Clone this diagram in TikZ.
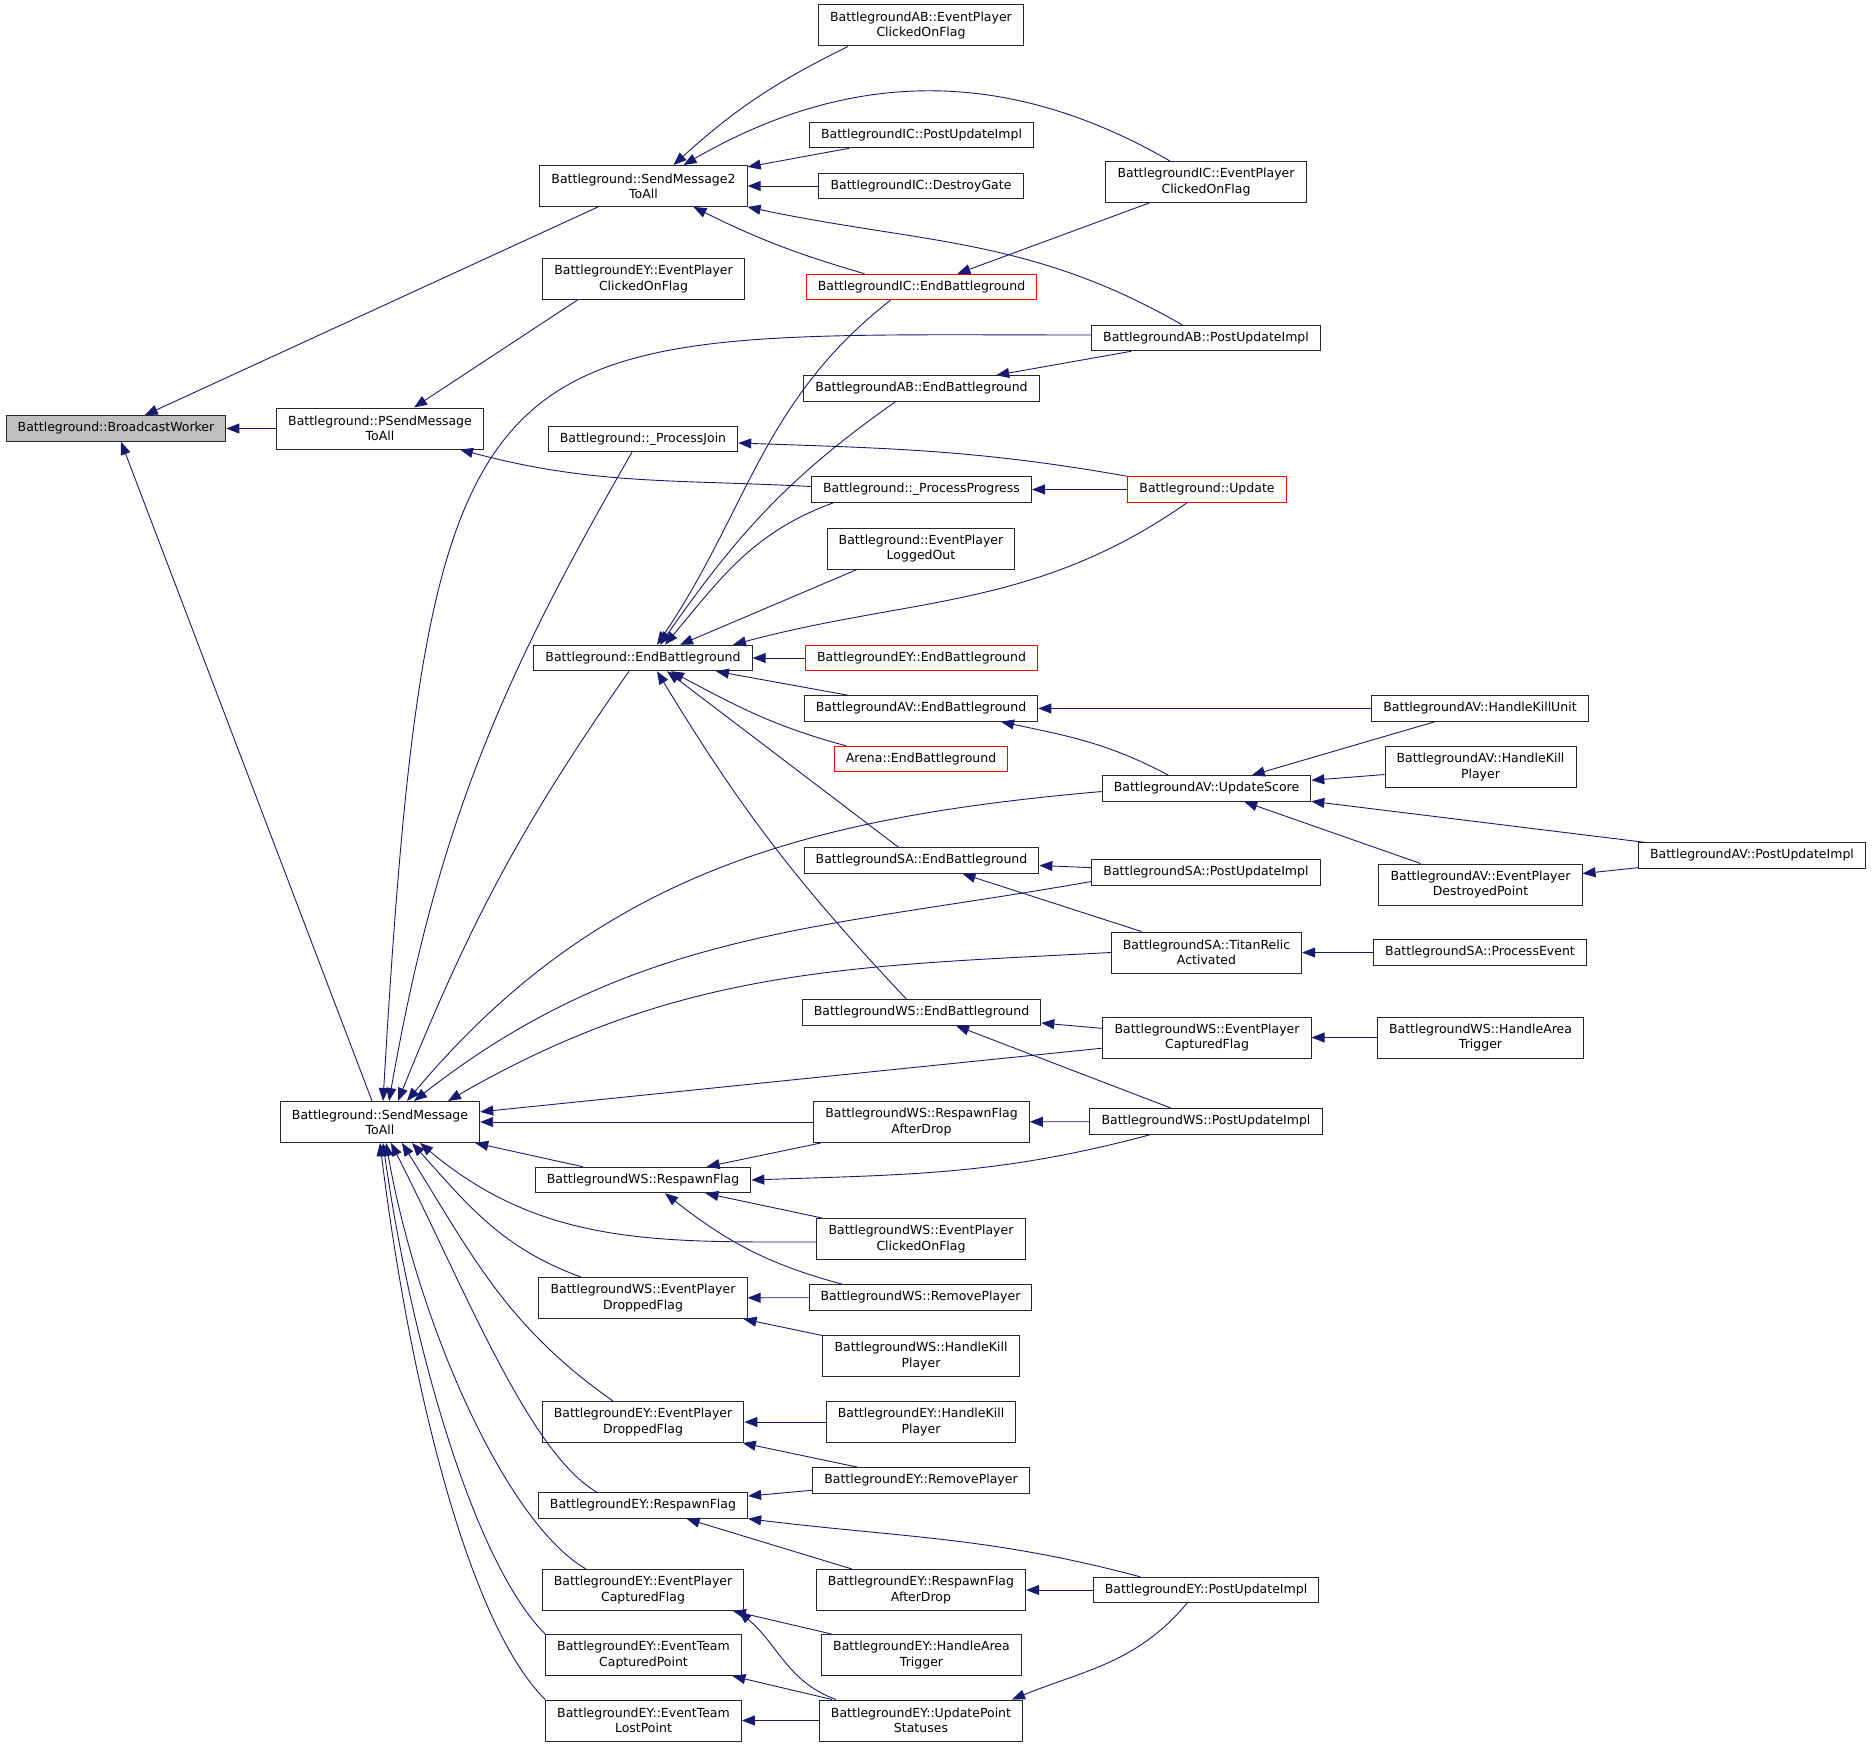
\documentclass[tikz,border=0pt]{standalone}
\usepackage{fontspec}
\setmainfont{DejaVu Sans}
\usepackage{tikz}
\usetikzlibrary{arrows.meta}
\definecolor{navy}{HTML}{191970}

\begin{document}
\begin{tikzpicture}
	[>= {Triangle[length=13pt,width=10pt]}, x=1pt, y=1pt,
	 func/.style={draw=black!85, line width=1pt, rectangle, align=center,
	   font=\fontsize{12.5}{15.2}\selectfont, inner xsep=11.6pt, inner ysep=2pt,
	   minimum height=25.5pt},
	 tall/.style={minimum height=41pt},
	 cut/.style={draw=red},
	 every edge/.append style={navy, line width=0.9pt}]
\useasboundingbox (0,0) rectangle (1873,-1747);

\node[func, fill=black!25](bw) at (116,-428.5){Battleground::BroadcastWorker};
\node[func, tall](psm) at (380,-428.5){Battleground::PSendMessage\\ToAll};
\node[func, tall](sm2) at (643.5,-186){Battleground::SendMessage2\\ToAll};
\node[func, tall](sm) at (380,-1122){Battleground::SendMessage\\ToAll};
\node[func, tall](abclick) at (921,-25.5){BattlegroundAB::EventPlayer\\ClickedOnFlag};
\node[func](icpost) at (921.5,-135){BattlegroundIC::PostUpdateImpl};
\node[func](icgate) at (921,-186){BattlegroundIC::DestroyGate};
\node[func, tall](icclick) at (1206,-182){BattlegroundIC::EventPlayer\\ClickedOnFlag};
\node[func, cut](icend) at (921.5,-287){BattlegroundIC::EndBattleground};
\node[func, tall](eyclick) at (643.5,-279){BattlegroundEY::EventPlayer\\ClickedOnFlag};
\node[func](abpost) at (1206,-338){BattlegroundAB::PostUpdateImpl};
\node[func](abend) at (921.5,-388.5){BattlegroundAB::EndBattleground};
\node[func](pjoin) at (643,-439){Battleground::\_ProcessJoin};
\node[func](pprog) at (921.5,-489.5){Battleground::\_ProcessProgress};
\node[func, cut](update) at (1207,-489.5){Battleground::Update};
\node[func, tall](logout) at (921,-548.5){Battleground::EventPlayer\\LoggedOut};
\node[func](endbg) at (643,-658){Battleground::EndBattleground};
\node[func, cut](eyend) at (921.5,-658){BattlegroundEY::EndBattleground};
\node[func](avend) at (921,-708.5){BattlegroundAV::EndBattleground};
\node[func, cut](arena) at (921,-759){Arena::EndBattleground};
\node[func](avkillunit) at (1480,-708.5){BattlegroundAV::HandleKillUnit};
\node[func, tall](avkillplayer) at (1480.5,-767){BattlegroundAV::HandleKill\\Player};
\node[func](avscore) at (1206.5,-788.5){BattlegroundAV::UpdateScore};
\node[func](avpost) at (1752,-855.5){BattlegroundAV::PostUpdateImpl};
\node[func](saend) at (921.5,-860.5){BattlegroundSA::EndBattleground};
\node[func](sapost) at (1206,-872.5){BattlegroundSA::PostUpdateImpl};
\node[func, tall](avdestroy) at (1480.5,-884.5){BattlegroundAV::EventPlayer\\DestroyedPoint};
\node[func, tall](satitan) at (1206.5,-952.5){BattlegroundSA::TitanRelic\\Activated};
\node[func](saevent) at (1480,-952.5){BattlegroundSA::ProcessEvent};
\node[func](wsend) at (921.5,-1012.5){BattlegroundWS::EndBattleground};
\node[func, tall](wscapt) at (1207,-1037.5){BattlegroundWS::EventPlayer\\CapturedFlag};
\node[func, tall](wsarea) at (1480.5,-1037.5){BattlegroundWS::HandleArea\\Trigger};
\node[func, tall](wsafter) at (921.5,-1122){BattlegroundWS::RespawnFlag\\AfterDrop};
\node[func](wspost) at (1206,-1121.5){BattlegroundWS::PostUpdateImpl};
\node[func](wsrespawn) at (643,-1180){BattlegroundWS::RespawnFlag};
\node[func, tall](wsclick) at (921,-1239){BattlegroundWS::EventPlayer\\ClickedOnFlag};
\node[func, tall](wsdrop) at (643,-1298){BattlegroundWS::EventPlayer\\DroppedFlag};
\node[func](wsremove) at (920.5,-1297.5){BattlegroundWS::RemovePlayer};
\node[func, tall](wskill) at (921,-1356){BattlegroundWS::HandleKill\\Player};
\node[func, tall](eydrop) at (643,-1422){BattlegroundEY::EventPlayer\\DroppedFlag};
\node[func, tall](eykill) at (921,-1422){BattlegroundEY::HandleKill\\Player};
\node[func](eyremove) at (921,-1480.5){BattlegroundEY::RemovePlayer};
\node[func](eyrespawn) at (643,-1505.5){BattlegroundEY::RespawnFlag};
\node[func, tall](eyafter) at (921,-1590){BattlegroundEY::RespawnFlag\\AfterDrop};
\node[func](eypost) at (1206,-1590){BattlegroundEY::PostUpdateImpl};
\node[func, tall](eycapt) at (643,-1590){BattlegroundEY::EventPlayer\\CapturedFlag};
\node[func, tall](eyarea) at (921.5,-1655){BattlegroundEY::HandleArea\\Trigger};
\node[func, tall](eyteam) at (643.5,-1655){BattlegroundEY::EventTeam\\CapturedPoint};
\node[func, tall](eylost) at (643.5,-1720.5){BattlegroundEY::EventTeam\\LostPoint};
\node[func, tall](eyupdate) at (921,-1720.5){BattlegroundEY::UpdatePoint\\Statuses};

\path[<-]
	(bw)	edge (psm)
	(bw)	edge (sm2)
	(bw)	edge (sm)
	([xshift=30pt]sm2.north)	edge [bend left=8] ([xshift=-73pt]abclick.south)
	([xshift=40pt]sm2.north)	edge [out=30, in=150] ([xshift=-36pt]icclick.north)
	(sm2)	edge (icpost)
	(sm2)	edge (icgate)
	(sm2.south east)	edge [out=-12, in=150] ([xshift=-24pt]abpost.north)
	([xshift=50pt]sm2.south)	edge [bend right=5] ([xshift=-57pt]icend.north)
	([xshift=34pt]psm.north)	edge ([xshift=-66pt]eyclick.south)
	([xshift=80pt]psm.south)	edge [out=-15, in=177] ([yshift=3pt]pprog.west)
	(icend)	edge (icclick)
	(abend)	edge (abpost)
	([yshift=-4pt]pjoin.east)	edge [out=-2, in=170] (update.north west)
	(pprog)	edge (update)
	([xshift=14pt]endbg.north)	edge [out=56, in=218] ([xshift=-31pt]icend.south)
	([xshift=17pt]endbg.north)	edge [out=55, in=215] ([xshift=-26pt]abend.south)
	([xshift=22pt]endbg.north)	edge [out=50, in=200] ([xshift=-88pt]pprog.south)
	([xshift=37pt]endbg.north)	edge ([xshift=-64pt]logout.south)
	([xshift=90pt]endbg.north)	edge [out=15, in=215] ([xshift=-20pt]update.south)
	(endbg)	edge (eyend)
	(endbg)	edge (avend)
	([xshift=28pt]endbg.south)	edge [out=-28, in=165] ([xshift=-75pt]arena.north)
	([xshift=24pt]endbg.south)	edge ([xshift=-23pt]saend.north)
	([xshift=14pt]endbg.south)	edge [bend right=6] ([xshift=-15pt]wsend.north)
	(avend)	edge (avkillunit)
	([xshift=80pt]avend.south)	edge [out=-12, in=152] ([xshift=-38pt]avscore.north)
	(avscore)	edge (avkillunit)
	(avscore)	edge (avkillplayer)
	(avscore)	edge (avpost)
	(avscore)	edge (avdestroy)
	(avdestroy)	edge (avpost)
	(saend)	edge (sapost)
	(saend)	edge (satitan)
	(satitan)	edge (saevent)
	(wsend)	edge (wscapt)
	(wscapt)	edge (wsarea)
	(wsend)	edge (wspost)
	(wsafter)	edge (wspost)
	([xshift=9pt]sm.north)	edge [out=80, in=240] ([xshift=-11pt]pjoin.south)
	([xshift=18pt]sm.north)	edge [out=68, in=235] ([xshift=-14pt]endbg.south)
	([xshift=27pt]sm.north)	edge [out=50, in=185] ([yshift=-3pt]avscore.west)
	([xshift=34pt]sm.north)	edge [out=38, in=190] ([yshift=-9pt]sapost.west)
	([xshift=68pt]sm.north)	edge [out=30, in=183] (satitan.west)
	(sm)	edge (wscapt)
	(sm)	edge (wsafter)
	(sm)	edge (wsrespawn)
	([xshift=40pt]sm.south)	edge [out=-40, in=180] ([yshift=-3pt]wsclick.west)
	([xshift=32pt]sm.south)	edge [out=-48, in=160] ([xshift=-62pt]wsdrop.north)
	([xshift=22pt]sm.south)	edge [out=-58, in=145] ([xshift=-30pt]eydrop.north)
	([xshift=11pt]sm.south)	edge [out=-63, in=150, in looseness=0.5] ([xshift=-46pt]eyrespawn.north)
	([xshift=6pt]sm.south)	edge [out=-80, in=150, in looseness=0.5] ([xshift=-57pt]eycapt.north)
	([xshift=3pt]sm.south)	edge [out=-82, in=135, in looseness=0.5] (eyteam.north west)
	(sm.south)	edge [out=-83, in=135, in looseness=0.5] (eylost.north west)
	(wsrespawn)	edge (wsafter)
	(wsrespawn.east)	edge [out=2, in=195] ([xshift=-56pt]wspost.south)
	(wsrespawn)	edge (wsclick)
	([xshift=22pt]wsrespawn.south)	edge [out=-38, in=165] ([xshift=-78pt]wsremove.north)
	(wsdrop)	edge (wsremove)
	(wsdrop)	edge (wskill)
	(eydrop)	edge (eykill)
	(eydrop)	edge (eyremove)
	(eyrespawn)	edge (eyremove)
	(eyrespawn.south east)	edge [out=-7, in=165] ([xshift=-66pt]eypost.north)
	(eyrespawn)	edge (eyafter)
	(eyafter)	edge (eypost)
	(eycapt)	edge (eyarea)
	([xshift=-6pt]eycapt.south east)	edge [out=-40, in=160] ([xshift=-85pt]eyupdate.north)
	(eyteam)	edge (eyupdate)
	(eylost)	edge (eyupdate)
	([xshift=91pt]eyupdate.north)	edge [out=22, in=230] ([xshift=-19pt]eypost.south);

% the long one round to AB::PostUpdateImpl
\draw[<-, navy, line width=0.9pt] ([xshift=3pt]sm.north) .. controls (430,-300) and (480,-335) .. ([yshift=3pt]abpost.west);
\end{tikzpicture}
\end{document}
